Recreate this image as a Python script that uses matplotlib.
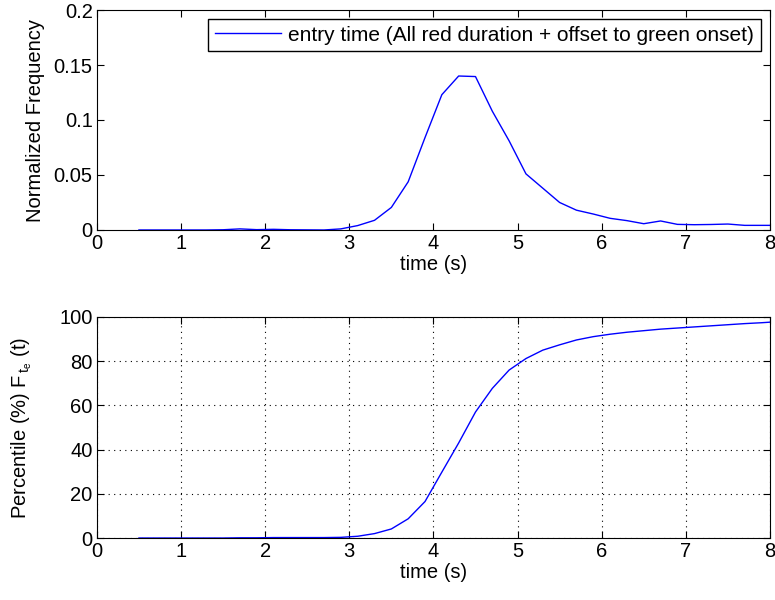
import matplotlib
matplotlib.use('Agg')
import matplotlib.pyplot as plt

# データ (時刻と頻度・累積)
time_s = [0.5, 0.7, 0.9, 1.1, 1.3, 1.5, 1.7, 1.9, 2.1, 2.3, 2.5, 2.7, 2.9, 3.1,
          3.3, 3.5, 3.7, 3.9, 4.1, 4.3, 4.5, 4.7, 4.9, 5.1, 5.3, 5.5, 5.7, 5.9,
          6.1, 6.3, 6.5, 6.7, 6.9, 7.1, 7.3, 7.5, 7.7, 7.9, 8.1]
freq = [0, 0, 0, 0, 0, 0.0002, 0.001, 0.0003, 0.0006, 0.0002, 0.0001, 0, 0.001, 0.004,
        0.0088, 0.0205, 0.0438, 0.084, 0.123, 0.140, 0.1395, 0.108, 0.081, 0.051, 0.038, 0.025, 0.018, 0.0145,
        0.0106, 0.0085, 0.0057, 0.0082, 0.0051, 0.0048, 0.005, 0.0054, 0.0042, 0.0042, 0.0042]
percentile = [0, 0, 0, 0, 0, 0, 0.1, 0.1, 0.2, 0.2, 0.2, 0.2, 0.3, 0.8,
              2.0, 4.1, 8.7, 16.5, 29.8, 43.0, 57.0, 67.7, 76.0, 81.2, 85.0, 87.4, 89.6, 91.1,
              92.2, 93.1, 93.8, 94.5, 95.0, 95.5, 96.0, 96.5, 97.0, 97.4, 97.9]
legend_label = "entry time (All red duration + offset to green onset)"

plt.rcParams['font.family'] = ['Liberation Sans', 'DejaVu Sans']
plt.rcParams['font.size'] = 14.5
plt.rcParams['mathtext.fontset'] = 'custom'
plt.rcParams['mathtext.rm'] = 'Liberation Sans'
plt.rcParams['mathtext.it'] = 'Liberation Sans'
plt.rcParams['xtick.direction'] = 'in'
plt.rcParams['ytick.direction'] = 'in'
plt.rcParams['xtick.top'] = True
plt.rcParams['ytick.right'] = True
plt.rcParams['xtick.major.size'] = 5
plt.rcParams['ytick.major.size'] = 5
plt.rcParams['xtick.major.pad'] = 3
plt.rcParams['ytick.major.pad'] = 3

fig = plt.figure(figsize=(7.75, 6.0), dpi=100)

# 上のグラフ
ax1 = fig.add_axes([0.125, 0.6167, 0.8685, 0.3666])
ax1.plot(time_s, freq, color="#0000ff", linewidth=1.0, label=legend_label)
ax1.set_xlim(0, 8)
ax1.set_ylim(0, 0.2)
ax1.set_xticks(range(0, 9))
ax1.set_yticks([0, 0.05, 0.1, 0.15, 0.2])
ax1.set_yticklabels(["0", "0.05", "0.1", "0.15", "0.2"])
ax1.set_xlabel("time (s)", labelpad=1)
ax1.set_ylabel("Normalized Frequency", labelpad=6)
leg = ax1.legend(loc="upper right", fancybox=False, framealpha=1, edgecolor="black",
                 handlelength=3.2, handletextpad=0.35, borderpad=0.3,
                 borderaxespad=0.45, fontsize=15)
leg.get_frame().set_linewidth(1.0)

# 下のグラフ
ax2 = fig.add_axes([0.125, 0.1033, 0.8685, 0.3684])
ax2.plot(time_s, percentile, color="#0000ff", linewidth=1.0)
ax2.set_xlim(0, 8)
ax2.set_ylim(0, 100)
ax2.set_xticks(range(0, 9))
ax2.set_yticks(range(0, 101, 20))
ax2.grid(True, linestyle=(0, (1, 4)), color="black", linewidth=0.8)
ax2.set_xlabel("time (s)", labelpad=1)
ax2.set_ylabel(r"Percentile (%) F$_{\,\mathrm{t}_{\mathrm{e}}}$ (t)", labelpad=18)

plt.savefig("out.png", dpi=100)
